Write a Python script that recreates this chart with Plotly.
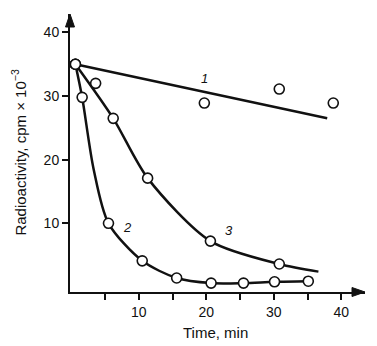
import plotly.graph_objects as go

# Data
t1 = [0.6, 3.6, 19.7, 30.8, 38.8]
y1 = [35.0, 32.0, 28.9, 31.1, 28.9]
fit1_t = [0.6, 37.9]
fit1_y = [35.0, 26.5]

t2 = [0.6, 1.6, 5.5, 10.5, 15.6, 20.7, 25.5, 30.1, 35.1]
y2 = [35.0, 29.8, 10.0, 4.1, 1.4, 0.6, 0.6, 0.8, 0.9]
fit2_t = [0.6, 1.6, 3.3, 5.5, 10.5, 15.6, 20.7, 25.5, 30.1, 35.1]
fit2_y = [35.0, 29.8, 18.5, 10.0, 4.1, 1.4, 0.6, 0.6, 0.8, 0.9]

t3 = [0.6, 6.2, 11.3, 20.6, 30.8]
y3 = [35.0, 26.5, 17.1, 7.2, 3.6]
fit3_t = [0.6, 6.2, 11.3, 20.6, 30.8, 36.6]
fit3_y = [35.0, 26.5, 17.1, 7.2, 3.6, 2.4]

x_ticks = [10, 20, 30, 40]
x_labels = ["10", "20", "30", "40"]
x_minor = [5, 15, 25, 35]
y_ticks = [10, 20, 30, 40]
y_labels = ["10", "20", "30", "40"]

curve_labels = [("1", 19.7, 32.8), ("2", 8.3, 9.4), ("3", 23.4, 8.9)]

FONT = "Liberation Sans, Arial, sans-serif"

fig = go.Figure()
for ft, fy in [(fit1_t, fit1_y), (fit2_t, fit2_y), (fit3_t, fit3_y)]:
    fig.add_trace(go.Scatter(x=ft, y=fy, mode="lines",
                             line=dict(color="#111", width=2.5, shape="spline", smoothing=0.8),
                             hoverinfo="skip", showlegend=False))
for tt, yy in [(t1, y1), (t2, y2), (t3, y3)]:
    fig.add_trace(go.Scatter(x=tt, y=yy, mode="markers",
                             marker=dict(symbol="circle", size=10, color="white",
                                         line=dict(color="#111", width=1.6)),
                             showlegend=False))

for txt, xx, yy in curve_labels:
    fig.add_annotation(x=xx, y=yy, text="<i>" + txt + "</i>", showarrow=False,
                       font=dict(family=FONT, size=13, color="#111"))

# axis arrowheads (pixel-sized paths anchored at the axis ends)
fig.add_shape(type="path", xref="paper", yref="paper", xsizemode="pixel", ysizemode="pixel",
              xanchor=1, yanchor=0, path="M -13 -4.5 L 0 0 L -13 4.5 Z",
              fillcolor="#111", line=dict(color="#111", width=1))
fig.add_shape(type="path", xref="paper", yref="paper", xsizemode="pixel", ysizemode="pixel",
              xanchor=0, yanchor=1, path="M -4.5 -13 L 0 0 L 4.5 -13 Z",
              fillcolor="#111", line=dict(color="#111", width=1))

# axis titles
fig.add_annotation(x=0.492, y=-0.147, xref="paper", yref="paper", text="Time, min",
                   xanchor="center", yanchor="middle",
                   showarrow=False, font=dict(family=FONT, size=15, color="#111"))
fig.add_annotation(x=-0.173, y=0.505, xref="paper", yref="paper",
                   text="Radioactivity, cpm × 10<sup>−3</sup>", textangle=-90,
                   xanchor="center", yanchor="middle",
                   showarrow=False, font=dict(family=FONT, size=15, color="#111"))

fig.update_layout(
    width=377, height=346,
    margin=dict(l=70, r=12, t=14, b=54),
    plot_bgcolor="white", paper_bgcolor="white",
    font=dict(family=FONT, size=14, color="#111"),
    xaxis=dict(range=[-0.2, 43.5], tickvals=x_ticks, ticktext=x_labels,
               showgrid=False, zeroline=False, showline=True, linecolor="#111",
               linewidth=2, ticks="outside", ticklen=6, tickwidth=2, tickcolor="#111",
               minor=dict(tickvals=x_minor, ticks="outside", ticklen=6, tickwidth=2,
                          tickcolor="#111", showgrid=False)),
    yaxis=dict(range=[-0.8, 42.9], tickvals=y_ticks, ticktext=y_labels,
               showgrid=False, zeroline=False, showline=True, linecolor="#111",
               linewidth=2, ticks="outside", ticklen=6, tickwidth=2, tickcolor="#111"),
)
fig.write_html("out.html")
